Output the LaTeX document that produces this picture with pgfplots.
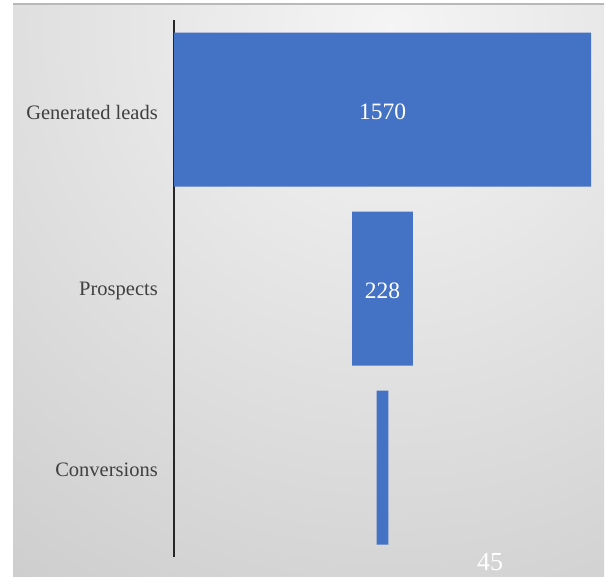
\documentclass[border=0pt]{standalone}
\usepackage{pgfplots}
\pgfplotsset{compat=1.18}
\usepackage{pgfplotstable}
\usepackage{fontspec}
\setmainfont{Liberation Serif}
\definecolor{barblue}{HTML}{4472C4}
\definecolor{labgray}{HTML}{404040}
\pgfplotstableread{
idx value offset
0 1570 0
1 228 671
2 45 762.5
}\funnel
\begin{document}
\begin{tikzpicture}
\useasboundingbox (0,0) rectangle (608pt,-576pt);
\fill[white] (0,0) rectangle (608pt,-576pt);
\begin{scope}
\clip (13pt,-4pt) rectangle (604pt,-576pt);
\shade[inner color=black!4, outer color=black!27] (390pt,-30pt) circle (1000pt);
\end{scope}
\draw[black!28, line width=1.5pt] (13pt,-4pt) -- (604pt,-4pt);
\begin{axis}[
  at={(174pt,-557pt)}, anchor=south west,
  scale only axis, width=417pt, height=537pt,
  xmin=0, xmax=1570, ymin=-0.5, ymax=2.5, y dir=reverse,
  xbar stacked, bar width=154pt,
  axis x line=none, axis y line*=left,
  axis line style={-, line width=1.6pt, black!85},
  ytick={0,1,2}, yticklabels={Generated leads,Prospects,Conversions},
  major tick length=0pt,
  yticklabel style={font=\fontsize{20.5}{20.5}\selectfont, text=labgray, inner sep=0pt, xshift=-16pt, yshift=-2.5pt},
  clip=false,
]
\addplot[fill=none, draw=none] table[x=offset, y=idx] {\funnel};
\addplot[fill=barblue, draw=none] table[x=value, y=idx] {\funnel};
\coordinate (l1) at (axis cs:785,0.012);
\coordinate (l2) at (axis cs:785,1.012);
\coordinate (l3) at (axis cs:1190,2.577);
\end{axis}
\node[text=white, font=\fontsize{23.5}{23.5}\selectfont] at (l1) {1570};
\node[text=white, font=\fontsize{23.5}{23.5}\selectfont] at (l2) {228};
\node[text=white, font=\fontsize{26}{26}\selectfont, anchor=base] at (l3) {45};
\end{tikzpicture}
\end{document}
